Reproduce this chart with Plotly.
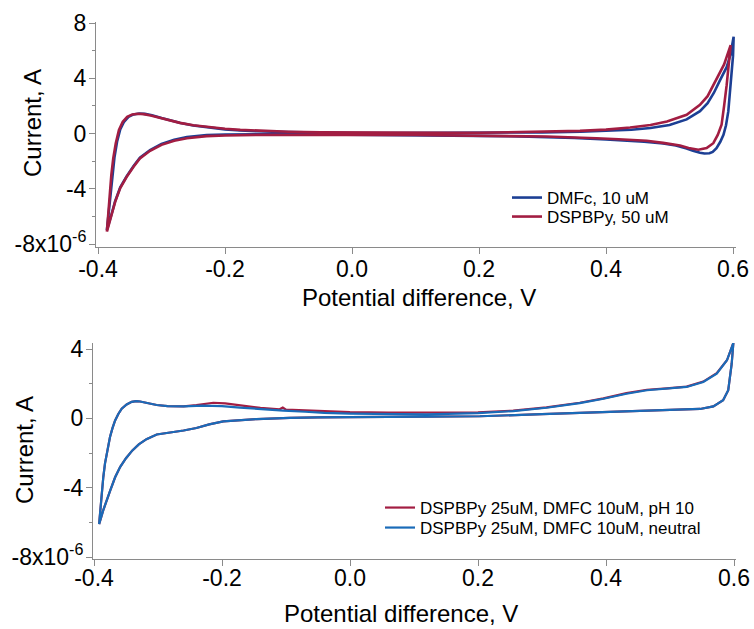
import plotly.graph_objects as go

W, H = 754, 629

# ---------------- data (values in A, units 1e-6) ----------------
# Top panel
dmfc_x = [-0.386, -0.383, -0.380, -0.377, -0.374, -0.370, -0.365, -0.359, -0.352, -0.344, -0.335, -0.326,
          -0.315, -0.300, -0.285, -0.270, -0.250, -0.229, -0.200, -0.176, -0.150, -0.100, -0.050, 0.000,
          0.060, 0.100, 0.150, 0.200, 0.250, 0.300, 0.360, 0.400, 0.440, 0.470, 0.500, 0.527, 0.548,
          0.560, 0.570, 0.580, 0.590, 0.596, 0.601,
          0.600, 0.598, 0.595, 0.5926, 0.589, 0.585, 0.580, 0.574, 0.568, 0.563, 0.555, 0.548, 0.537,
          0.527, 0.510, 0.490, 0.460, 0.438, 0.400, 0.350, 0.300, 0.250, 0.200, 0.150, 0.100, 0.060,
          0.000, -0.050, -0.100, -0.150, -0.200, -0.229, -0.260, -0.280, -0.300, -0.318, -0.334, -0.344,
          -0.355, -0.365, -0.373, -0.379, -0.383, -0.386]
dmfc_y = [-7.0, -5.6, -4.2, -2.9, -1.7, -0.6, 0.3, 0.85, 1.2, 1.38, 1.45, 1.42,
          1.32, 1.12, 0.93, 0.76, 0.58, 0.44, 0.30, 0.22, 0.16, 0.10, 0.06, 0.04,
          0.03, 0.03, 0.03, 0.03, 0.05, 0.08, 0.13, 0.18, 0.27, 0.40, 0.62, 1.02, 1.62,
          2.2, 2.95, 3.9, 4.8, 5.7, 7.0,
          5.6, 4.6, 3.2, 1.6, 0.6, -0.1, -0.6, -1.06, -1.33, -1.43, -1.45, -1.40, -1.25,
          -1.08, -0.87, -0.72, -0.60, -0.53, -0.43, -0.33, -0.25, -0.20, -0.17, -0.14, -0.12, -0.10,
          -0.08, -0.06, -0.05, -0.05, -0.08, -0.12, -0.25, -0.45, -0.75, -1.20, -1.75, -2.35,
          -3.1, -3.9, -4.9, -5.9, -6.5, -7.0]

dspbpy_x = [-0.386, -0.384, -0.382, -0.379, -0.376, -0.372, -0.367, -0.361, -0.354, -0.346, -0.337, -0.328,
            -0.317, -0.302, -0.287, -0.271, -0.250, -0.229, -0.200, -0.176, -0.150, -0.100, -0.050, 0.000,
            0.060, 0.100, 0.150, 0.200, 0.254, 0.300, 0.359, 0.400, 0.438, 0.470, 0.496, 0.527, 0.548,
            0.560, 0.569, 0.578, 0.586, 0.5963,
            0.594, 0.590, 0.586, 0.582, 0.576, 0.569, 0.5585, 0.5454, 0.530, 0.5165, 0.490, 0.464,
            0.420, 0.385, 0.3066, 0.250, 0.2016, 0.150, 0.100, 0.060, 0.000, -0.050, -0.100, -0.150,
            -0.200, -0.229, -0.260, -0.280, -0.300, -0.318, -0.334, -0.344, -0.355, -0.365, -0.373,
            -0.379, -0.383, -0.386]
dspbpy_y = [-7.1, -5.8, -4.4, -3.0, -1.8, -0.7, 0.25, 0.85, 1.2, 1.38, 1.43, 1.40,
            1.30, 1.12, 0.93, 0.77, 0.60, 0.47, 0.34, 0.26, 0.20, 0.13, 0.09, 0.07,
            0.05, 0.05, 0.05, 0.05, 0.08, 0.13, 0.19, 0.28, 0.43, 0.62, 0.87, 1.35, 2.07,
            2.7, 3.5, 4.3, 5.0, 6.4,
            5.2, 3.5, 2.0, 0.63, -0.1, -0.7, -1.06, -1.18, -1.05, -0.87, -0.68, -0.53,
            -0.42, -0.34, -0.22, -0.18, -0.14, -0.12, -0.11, -0.10, -0.09, -0.08, -0.08, -0.10,
            -0.14, -0.19, -0.34, -0.52, -0.82, -1.25, -1.80, -2.40,
            -3.15, -3.95, -4.95, -5.95, -6.6, -7.1]

# Bottom panel
ph10_x = [-0.392, -0.390, -0.388, -0.3855, -0.3828, -0.379, -0.375, -0.371, -0.367, -0.362, -0.3567, -0.349,
          -0.341, -0.334, -0.328, -0.315, -0.302, -0.285, -0.260, -0.240, -0.222, -0.2136, -0.195, -0.172,
          -0.140, -0.110, -0.105, -0.100, -0.070, -0.040, 0.000, 0.060, 0.120, 0.200, 0.255, 0.307,
          0.359, 0.396, 0.432, 0.464, 0.495, 0.526, 0.552, 0.573, 0.589, 0.599,
          0.5964, 0.591, 0.583, 0.5677, 0.547, 0.500, 0.4636, 0.400, 0.359, 0.300, 0.255, 0.203,
          0.120, 0.060, 0.000, -0.050, -0.094, -0.146, -0.175, -0.198, -0.220, -0.240, -0.260,
          -0.280, -0.302, -0.318, -0.330, -0.340, -0.350, -0.359, -0.367, -0.375, -0.381, -0.3855,
          -0.392]
ph10_y = [-6.1, -5.2, -4.35, -3.4, -2.6, -1.8, -1.08, -0.55, -0.12, 0.25, 0.56, 0.80,
          0.95, 0.99, 0.97, 0.87, 0.77, 0.70, 0.69, 0.76, 0.86, 0.90, 0.86, 0.74,
          0.60, 0.52, 0.62, 0.50, 0.45, 0.40, 0.36, 0.33, 0.32, 0.34, 0.44, 0.63,
          0.90, 1.15, 1.45, 1.65, 1.73, 1.83, 2.12, 2.6, 3.35, 4.35,
          3.15, 1.62, 1.04, 0.69, 0.54, 0.49, 0.46, 0.38, 0.31, 0.24, 0.17, 0.12,
          0.10, 0.10, 0.07, 0.05, 0.03, -0.04, -0.10, -0.18, -0.35, -0.56, -0.70,
          -0.80, -0.93, -1.20, -1.50, -1.85, -2.3, -2.8, -3.4, -4.2, -4.8, -5.3,
          -6.1]

neutral_x = [-0.392, -0.390, -0.388, -0.3855, -0.3828, -0.379, -0.375, -0.371, -0.367, -0.362, -0.3567, -0.349,
             -0.341, -0.334, -0.328, -0.315, -0.302, -0.285, -0.260, -0.230, -0.200, -0.172, -0.140,
             -0.104, -0.070, -0.040, 0.000, 0.060, 0.120, 0.200, 0.255, 0.307,
             0.359, 0.396, 0.432, 0.464, 0.495, 0.526, 0.552, 0.573, 0.589, 0.599,
             0.5964, 0.591, 0.583, 0.5677, 0.547, 0.500, 0.4636, 0.400, 0.359, 0.300, 0.255, 0.203,
             0.120, 0.060, 0.000, -0.050, -0.094, -0.146, -0.175, -0.198, -0.220, -0.240, -0.260,
             -0.280, -0.302, -0.318, -0.330, -0.340, -0.350, -0.359, -0.367, -0.375, -0.381, -0.3855,
             -0.392]
neutral_y = [-6.1, -5.2, -4.35, -3.4, -2.6, -1.8, -1.08, -0.55, -0.12, 0.25, 0.56, 0.80,
             0.95, 0.99, 0.97, 0.87, 0.77, 0.70, 0.69, 0.73, 0.71, 0.62, 0.52,
             0.45, 0.38, 0.31, 0.27, 0.23, 0.23, 0.30, 0.42, 0.61,
             0.88, 1.13, 1.42, 1.62, 1.71, 1.81, 2.10, 2.58, 3.35, 4.35,
             3.15, 1.62, 1.04, 0.69, 0.54, 0.49, 0.46, 0.38, 0.31, 0.24, 0.17, 0.12,
             0.10, 0.10, 0.07, 0.05, 0.03, -0.04, -0.10, -0.18, -0.35, -0.56, -0.70,
             -0.80, -0.93, -1.20, -1.50, -1.85, -2.3, -2.8, -3.4, -4.2, -4.8, -5.3,
             -6.1]

x_ticks = [-0.4, -0.2, 0.0, 0.2, 0.4, 0.6]
x_ticktext = ["-0.4", "-0.2", "0.0", "0.2", "0.4", "0.6"]
y1_ticks = [-8, -4, 0, 4, 8]
y1_ticktext = ["-8x10<sup>-6</sup>", "-4", "0", "4", "8"]
y1_minor = [-6, -2, 2, 6]
y2_ticks = [-8, -4, 0, 4]
y2_ticktext = ["-8x10<sup>-6</sup>", "-4", "0", "4"]
y2_minor = [-6, -2, 2]

SCALE = 1e-6

fig = go.Figure()

fig.add_trace(go.Scatter(x=dmfc_x, y=[v * SCALE for v in dmfc_y], mode="lines", name="DMFc, 10 uM",
                         line=dict(color="#1c3f94", width=2.6), xaxis="x", yaxis="y", legend="legend"))
fig.add_trace(go.Scatter(x=dspbpy_x, y=[v * SCALE for v in dspbpy_y], mode="lines", name="DSPBPy, 50 uM",
                         line=dict(color="#a21d42", width=2.6), xaxis="x", yaxis="y", legend="legend2"))
fig.add_trace(go.Scatter(x=ph10_x, y=[v * SCALE for v in ph10_y], mode="lines",
                         name="DSPBPy 25uM, DMFC 10uM, pH 10",
                         line=dict(color="#a21d42", width=2.2), xaxis="x2", yaxis="y2", legend="legend3"))
fig.add_trace(go.Scatter(x=neutral_x, y=[v * SCALE for v in neutral_y], mode="lines",
                         name="DSPBPy 25uM, DMFC 10uM, neutral",
                         line=dict(color="#1a6bb8", width=2.2), xaxis="x2", yaxis="y2", legend="legend4"))

AX = "#8a8a8a"
FONT = "Liberation Sans, Arial, sans-serif"


def px_x(p):
    return p / W


def px_y(p):
    return 1 - p / H


common_x = dict(showline=True, linecolor=AX, linewidth=1, ticks="outside", ticklen=6, tickcolor=AX,
                showgrid=False, zeroline=False, tickmode="array", tickvals=x_ticks, ticktext=x_ticktext,
                automargin=False, tickfont=dict(size=23, color="black", family=FONT))
common_y = dict(showline=True, linecolor=AX, linewidth=1, ticks="outside", ticklen=6, tickcolor=AX,
                showgrid=False, zeroline=False, tickmode="array", automargin=False, ticklabelstandoff=-2,
                tickfont=dict(size=23, color="black", family=FONT))

# top panel geometry
x1_l, x1_r = 96, 736
x1_per = 635.0
y1_t, y1_b = 22, 247
y1_per = 13.8
# bottom panel geometry
x2_l, x2_r = 93, 736
x2_per = 640.0
y2_t, y2_b = 343, 559
y2_per = 17.33


def leg(xp, yp):
    return dict(x=px_x(xp), y=px_y(yp), xanchor="left", yanchor="top", bgcolor="rgba(0,0,0,0)",
                font=dict(size=17, family=FONT, color="black"))


fig.update_layout(
    width=W, height=H, margin=dict(l=0, r=0, t=0, b=0, autoexpand=False),
    paper_bgcolor="white", plot_bgcolor="white",
    font=dict(family=FONT, color="black"),
    xaxis=dict(common_x, domain=[px_x(x1_l), px_x(x1_r)], anchor="y", ticklabelstandoff=-5,
               range=[-0.4 - (98 - x1_l) / x1_per, 0.6 + (x1_r - 733) / x1_per]),
    yaxis=dict(common_y, domain=[px_y(y1_b), px_y(y1_t)], anchor="x",
               tickvals=[v * SCALE for v in y1_ticks], ticktext=y1_ticktext,
               minor=dict(tickmode="array", tickvals=[v * SCALE for v in y1_minor], ticks="outside",
                          ticklen=3, tickcolor=AX),
               range=[(-8 - (y1_b - 244) / y1_per) * SCALE, (8 + (23 - y1_t) / y1_per) * SCALE]),
    xaxis2=dict(common_x, domain=[px_x(x2_l), px_x(x2_r)], anchor="y2", ticklabelstandoff=-8,
                range=[-0.4 - (94 - x2_l) / x2_per, 0.6 + (x2_r - 734) / x2_per]),
    yaxis2=dict(common_y, domain=[px_y(y2_b), px_y(y2_t)], anchor="x2",
                tickvals=[v * SCALE for v in y2_ticks], ticktext=y2_ticktext,
                minor=dict(tickmode="array", tickvals=[v * SCALE for v in y2_minor], ticks="outside",
                           ticklen=3, tickcolor=AX),
                range=[(-8 - (y2_b - 557) / y2_per) * SCALE, (4 + (349 - y2_t) / y2_per) * SCALE]),
    legend=leg(507, 180),
    legend2=leg(507, 199),
    legend3=leg(380, 490),
    legend4=leg(380, 510),
    showlegend=True,
)

fig.add_annotation(text="Current, A", textangle=-90, x=px_x(33), y=px_y(123), xref="paper", yref="paper",
                   xanchor="center", yanchor="middle", showarrow=False,
                   font=dict(size=24, family=FONT, color="black"))
fig.add_annotation(text="Current, A", textangle=-90, x=px_x(24), y=px_y(450), xref="paper", yref="paper",
                   xanchor="center", yanchor="middle", showarrow=False,
                   font=dict(size=24, family=FONT, color="black"))
fig.add_annotation(text="Potential difference, V", x=px_x(419), y=px_y(297), xref="paper", yref="paper",
                   xanchor="center", yanchor="middle", showarrow=False,
                   font=dict(size=24, family=FONT, color="black"))
fig.add_annotation(text="Potential difference, V", x=px_x(401), y=px_y(613), xref="paper", yref="paper",
                   xanchor="center", yanchor="middle", showarrow=False,
                   font=dict(size=24, family=FONT, color="black"))

fig.write_html("out.html")
